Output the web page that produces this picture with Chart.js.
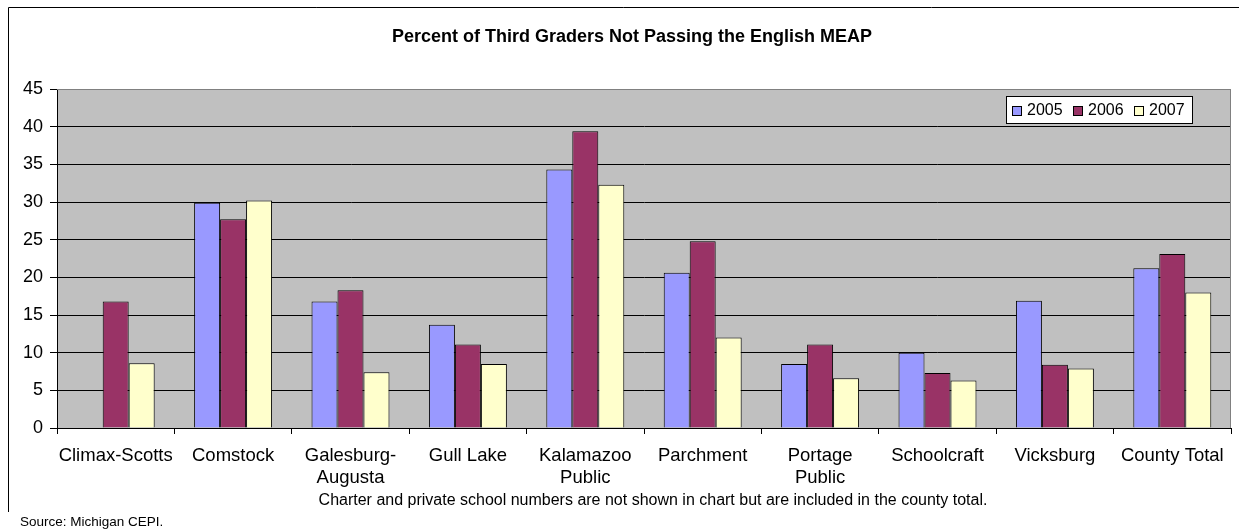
<!DOCTYPE html>
<html>
<head>
<meta charset="utf-8">
<script src="https://cdn.jsdelivr.net/npm/chart.js@4"></script>
<style>
  html, body { margin: 0; padding: 0; background: #fff; }
  #wrap { width: 1239px; height: 531px; }
</style>
</head>
<body>
<div id="wrap"><canvas id="meapChart" width="1239" height="531"></canvas></div>
<script>
const districts = [
  ['Climax-Scotts'], ['Comstock'], ['Galesburg-', 'Augusta'], ['Gull Lake'],
  ['Kalamazoo', 'Public'], ['Parchment'], ['Portage', 'Public'],
  ['Schoolcraft'], ['Vicksburg'], ['County Total']
];
const years = ['2005', '2006', '2007'];
const pct2005 = [null, 29.9, 16.8, 13.7, 34.3, 20.6, 8.5, 10.0, 16.9, 21.2];
const pct2006 = [16.8, 27.7, 18.3, 11.1, 39.4, 24.8, 11.1, 7.3, 8.4, 23.1];
const pct2007 = [8.6, 30.2, 7.4, 8.5, 32.3, 12.0, 6.6, 6.3, 7.9, 18.0];
const yMax = 45;
const yStep = 5;

const titleText = 'Percent of Third Graders Not Passing the English MEAP';
const noteText = 'Charter and private school numbers are not shown in chart but are included in the county total.';
const sourceText = 'Source: Michigan CEPI.';

const FONT = '"Liberation Sans", Arial, sans-serif';

// plot background, frame and the loose texts
const frame = {
  id: 'frame',
  beforeDraw(chart) {
    const { ctx, chartArea: a } = chart;
    ctx.save();
    ctx.fillStyle = '#c0c0c0';
    ctx.fillRect(a.left, a.top, a.right - a.left, a.bottom - a.top);
    // outer chart border (only top and left visible)
    ctx.strokeStyle = '#000';
    ctx.lineWidth = 1;
    ctx.beginPath();
    ctx.moveTo(8.5, 512);
    ctx.lineTo(8.5, 7.5);
    ctx.lineTo(1239, 7.5);
    ctx.stroke();
    ctx.restore();
  },
  afterDraw(chart) {
    const { ctx, chartArea: a } = chart;
    ctx.save();
    ctx.strokeStyle = '#808080';
    ctx.lineWidth = 1;
    ctx.beginPath();
    ctx.moveTo(a.left, a.top + 0.5);
    ctx.lineTo(a.right - 0.5, a.top + 0.5);
    ctx.lineTo(a.right - 0.5, a.bottom);
    ctx.stroke();

    ctx.fillStyle = '#000';
    ctx.textBaseline = 'middle';
    ctx.textAlign = 'center';
    ctx.font = 'bold 18px ' + FONT;
    ctx.fillText(titleText, 632, 37);
    ctx.font = '16px ' + FONT;
    ctx.fillText(noteText, 653, 501);
    ctx.textAlign = 'left';
    ctx.font = '13.5px ' + FONT;
    ctx.fillText(sourceText, 20, 522);

    // legend box inside the plot area
    const lx = 1006, ly = 96, lw = 187, lh = 28;
    ctx.fillStyle = '#fff';
    ctx.fillRect(lx, ly, lw, lh);
    ctx.strokeStyle = '#000';
    ctx.strokeRect(lx + 0.5, ly + 0.5, lw - 1, lh - 1);
    ctx.font = '16px ' + FONT;
    chart.data.datasets.forEach((ds, i) => {
      const x = lx + 6 + i * 61;
      ctx.fillStyle = ds.backgroundColor;
      ctx.fillRect(x, ly + 10, 10, 10);
      ctx.strokeStyle = '#000';
      ctx.strokeRect(x + 0.5, ly + 10.5, 9, 9);
      ctx.fillStyle = '#000';
      ctx.fillText(ds.label, x + 15, ly + lh / 2 + 1);
    });
    ctx.restore();
  }
};

const barStyle = { borderColor: '#000', borderWidth: 1, barPercentage: 1, categoryPercentage: 0.664 };

new Chart(document.getElementById('meapChart').getContext('2d'), {
  type: 'bar',
  data: {
    labels: districts,
    datasets: [
      { label: years[0], data: pct2005, backgroundColor: '#9999ff', ...barStyle },
      { label: years[1], data: pct2006, backgroundColor: '#993366', ...barStyle },
      { label: years[2], data: pct2007, backgroundColor: '#ffffcc', ...barStyle }
    ]
  },
  options: {
    responsive: false,
    animation: false,
    devicePixelRatio: 1,
    layout: { padding: { left: 0, right: 8, top: 89, bottom: 0 } },
    plugins: {
      legend: { display: false },
      title: { display: false },
      tooltip: { enabled: false }
    },
    scales: {
      x: {
        afterFit(scale) { scale.height = 103; },
        border: { display: true, color: '#000', width: 1 },
        grid: { display: true, drawOnChartArea: false, drawTicks: true, tickLength: 6, color: '#000', offset: true },
        ticks: {
          color: '#000', font: { family: FONT, size: 18.5, lineHeight: 1.2 },
          padding: 11, maxRotation: 0, autoSkip: false
        }
      },
      y: {
        min: 0,
        max: yMax,
        afterFit(scale) { scale.width = 57; },
        border: { display: true, color: '#000', width: 1 },
        grid: {
          color: (c) => c.tick && c.tick.value === yMax ? '#808080' : '#000',
          tickColor: '#000',
          tickLength: 7,
          drawTicks: true
        },
        ticks: { stepSize: yStep, color: '#000', padding: 7, font: { family: FONT, size: 18 } }
      }
    }
  },
  plugins: [frame]
});
</script>
</body>
</html>
